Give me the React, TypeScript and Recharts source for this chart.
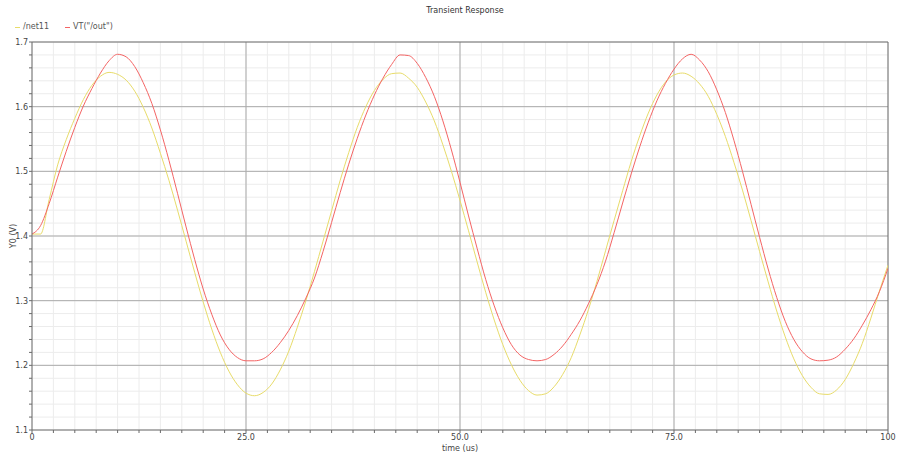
import React from 'react'
import { LineChart, Line, XAxis, YAxis, CartesianGrid, ReferenceLine } from 'recharts'

// time axis, us
const times = [
  0, 1, 2, 3, 4, 5, 6, 7, 8, 9, 10, 11, 12, 13, 14, 15, 16, 17, 18, 19, 20,
  21, 22, 23, 24, 25, 26, 27, 28, 29, 30, 31, 32, 33, 34, 35, 36, 37, 38, 39, 40,
  41, 42, 43, 44, 45, 46, 47, 48, 49, 50, 51, 52, 53, 54, 55, 56, 57, 58, 59, 60,
  61, 62, 63, 64, 65, 66, 67, 68, 69, 70, 71, 72, 73, 74, 75, 76, 77, 78, 79, 80,
  81, 82, 83, 84, 85, 86, 87, 88, 89, 90, 91, 92, 93, 94, 95, 96, 97, 98, 99, 100,
]

// /net11 (yellow)
const net11 = [
  1.403, 1.403, 1.456, 1.510, 1.549, 1.582, 1.611, 1.633, 1.647, 1.653, 1.650,
  1.641, 1.624, 1.599, 1.567, 1.528, 1.486, 1.440, 1.392, 1.344, 1.298,
  1.256, 1.220, 1.191, 1.170, 1.157, 1.153, 1.158, 1.171, 1.193, 1.222,
  1.259, 1.300, 1.345, 1.392, 1.439, 1.486, 1.529, 1.568, 1.600, 1.625,
  1.642, 1.651, 1.652, 1.644, 1.630, 1.607, 1.578, 1.541, 1.500, 1.455,
  1.408, 1.360, 1.313, 1.270, 1.232, 1.201, 1.177, 1.161, 1.154, 1.156,
  1.167, 1.186, 1.212, 1.247, 1.286, 1.330, 1.377, 1.424, 1.470, 1.515,
  1.555, 1.590, 1.618, 1.638, 1.649, 1.652, 1.647, 1.635, 1.616, 1.588,
  1.554, 1.514, 1.471, 1.424, 1.376, 1.329, 1.284, 1.244, 1.210, 1.184,
  1.166, 1.156, 1.155, 1.162, 1.178, 1.203, 1.234, 1.273, 1.315, 1.355,
]

// VT("/out") (red)
const vout = [
  1.403, 1.416, 1.450, 1.491, 1.531, 1.568, 1.601, 1.628, 1.652, 1.671, 1.681,
  1.677, 1.662, 1.637, 1.605, 1.564, 1.517, 1.466, 1.414, 1.364, 1.318,
  1.279, 1.247, 1.225, 1.212, 1.207, 1.207, 1.210, 1.220, 1.235, 1.254,
  1.277, 1.304, 1.335, 1.376, 1.421, 1.467, 1.511, 1.551, 1.587, 1.618,
  1.644, 1.665, 1.680, 1.679, 1.667, 1.645, 1.616, 1.578, 1.533, 1.483,
  1.431, 1.381, 1.333, 1.292, 1.258, 1.232, 1.216, 1.209, 1.207, 1.209,
  1.217, 1.230, 1.248, 1.269, 1.295, 1.325, 1.361, 1.405, 1.451, 1.496,
  1.538, 1.576, 1.609, 1.636, 1.658, 1.674, 1.681, 1.672, 1.654, 1.626,
  1.591, 1.548, 1.500, 1.449, 1.398, 1.349, 1.305, 1.268, 1.240, 1.221,
  1.210, 1.207, 1.208, 1.213, 1.225, 1.241, 1.262, 1.286, 1.314, 1.350,
]

const xTickValues = [0, 25, 50, 75, 100]
const xTickLabels = ['0', '25.0', '50.0', '75.0', '100']
const yTickValues = [1.1, 1.2, 1.3, 1.4, 1.5, 1.6, 1.7]
const yTickLabels = ['1.1', '1.2', '1.3', '1.4', '1.5', '1.6', '1.7']

const seriesNames = ['/net11', 'VT("/out")']
const seriesColors = ['#e8dc6a', '#f46464']

const chartData = times.map((t, i) => ({ t, net11: net11[i], vout: vout[i] }))

// minor ticks: 2.5us on x, 0.02V on y
const xMinor: number[] = []
for (let i = 0; i <= 40; i++) xMinor.push(i * 2.5)
const yMinor: number[] = []
for (let i = 0; i <= 30; i++) yMinor.push(Math.round((1.1 + i * 0.02) * 1000) / 1000)

const fmtX = (v: number) => {
  const k = xTickValues.indexOf(v)
  return k >= 0 ? xTickLabels[k] : ''
}
const fmtY = (v: number) => {
  const k = yTickValues.findIndex(y => Math.abs(y - v) < 1e-6)
  return k >= 0 ? yTickLabels[k] : ''
}

const font = '"DejaVu Sans", sans-serif'
const axisColor = '#6a6a6a'
const tickStyle = { fontSize: 8, fill: '#444', fontFamily: font }

const App = () => {
  return (
    <div style={{ position: 'absolute', left: 0, top: 0, width: 898, height: 455, background: '#fff' }}>
      <div style={{ position: 'absolute', top: 6, left: 365, width: 200, textAlign: 'center', fontSize: 8, fontFamily: font, color: '#333', lineHeight: '10px' }}>
        Transient Response
      </div>
      {/* legend, top left */}
      <div style={{ position: 'absolute', top: 22, left: 15, display: 'flex', fontSize: 8, fontFamily: font, color: '#555', lineHeight: '10px' }}>
        {seriesNames.map((name, i) => (
          <span key={name} style={{ display: 'flex', alignItems: 'center', marginRight: 16 }}>
            <span style={{ display: 'inline-block', width: 5, height: 1, background: seriesColors[i], marginRight: 3 }} />
            {name}
          </span>
        ))}
      </div>
      <LineChart width={898} height={455} data={chartData} margin={{ top: 42, right: 10, bottom: 0, left: 0 }}>
        <CartesianGrid stroke="#ececec" />
        {xTickValues.slice(1, -1).map(v => (
          <ReferenceLine key={'x' + v} x={v} stroke="#ababab" />
        ))}
        {yTickValues.slice(1, -1).map(v => (
          <ReferenceLine key={'y' + v} y={v} stroke="#ababab" />
        ))}
        <ReferenceLine x={100} stroke={axisColor} />
        <ReferenceLine y={1.7} stroke={axisColor} />
        <XAxis
          type="number"
          dataKey="t"
          domain={[0, 100]}
          ticks={xMinor}
          interval={0}
          tickFormatter={fmtX}
          tickSize={3}
          tickMargin={1}
          height={25}
          stroke={axisColor}
          tick={tickStyle}
          allowDataOverflow
          label={{ value: 'time (us)', position: 'insideBottom', offset: 4, style: { fontSize: 8, fill: '#444', fontFamily: font } }}
        />
        <YAxis
          type="number"
          domain={[1.1, 1.7]}
          ticks={yMinor}
          interval={0}
          tickFormatter={fmtY}
          tickSize={3}
          tickMargin={1}
          width={32}
          stroke={axisColor}
          tick={tickStyle}
          allowDataOverflow
          label={{ value: 'Y0 (V)', angle: -90, position: 'center', dx: -3, style: { fontSize: 8, fill: '#444', fontFamily: font } }}
        />
        <Line type="monotone" dataKey="net11" stroke={seriesColors[0]} strokeWidth={1} dot={false} activeDot={false} isAnimationActive={false} />
        <Line type="monotone" dataKey="vout" stroke={seriesColors[1]} strokeWidth={1} dot={false} activeDot={false} isAnimationActive={false} />
      </LineChart>
    </div>
  )
}

export default App
